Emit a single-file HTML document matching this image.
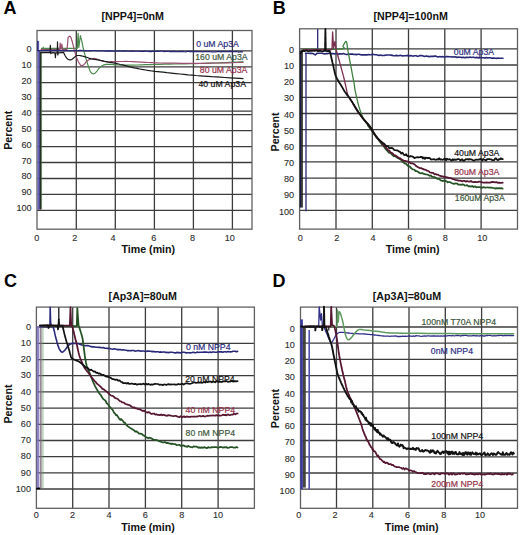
<!DOCTYPE html>
<html><head><meta charset="utf-8"><style>
html,body{margin:0;padding:0;background:#fff;overflow:hidden;width:520px;height:535px;}
svg{display:block;}
text{font-family:"Liberation Sans",sans-serif;}
.tk{font-size:9.6px;fill:#2e2e2e;stroke:#2e2e2e;stroke-width:0.12px;}
.bt{font-size:11px;font-weight:bold;fill:#111;}
.lt{font-size:18px;font-weight:bold;fill:#000;}
.cl{font-size:9.4px;}
</style></head><body>
<svg width="520" height="535" viewBox="0 0 520 535">
<rect width="520" height="535" fill="#fff"/>
<line x1="76.3" y1="30.5" x2="76.3" y2="229.2" stroke="#3c3c3c" stroke-width="1.3"/>
<line x1="115.3" y1="30.5" x2="115.3" y2="229.2" stroke="#3c3c3c" stroke-width="1.3"/>
<line x1="154.4" y1="30.5" x2="154.4" y2="229.2" stroke="#3c3c3c" stroke-width="1.3"/>
<line x1="193.4" y1="30.5" x2="193.4" y2="229.2" stroke="#3c3c3c" stroke-width="1.3"/>
<line x1="232.4" y1="30.5" x2="232.4" y2="229.2" stroke="#3c3c3c" stroke-width="1.3"/>
<line x1="37" y1="50.8" x2="252" y2="50.8" stroke="#3c3c3c" stroke-width="1.3"/>
<line x1="37" y1="66.8" x2="252" y2="66.8" stroke="#3c3c3c" stroke-width="1.3"/>
<line x1="37" y1="82.7" x2="252" y2="82.7" stroke="#3c3c3c" stroke-width="1.3"/>
<line x1="37" y1="98.7" x2="252" y2="98.7" stroke="#3c3c3c" stroke-width="1.3"/>
<line x1="37" y1="114.6" x2="252" y2="114.6" stroke="#3c3c3c" stroke-width="1.3"/>
<line x1="37" y1="130.6" x2="252" y2="130.6" stroke="#3c3c3c" stroke-width="1.3"/>
<line x1="37" y1="146.6" x2="252" y2="146.6" stroke="#3c3c3c" stroke-width="1.3"/>
<line x1="37" y1="162.5" x2="252" y2="162.5" stroke="#3c3c3c" stroke-width="1.3"/>
<line x1="37" y1="178.5" x2="252" y2="178.5" stroke="#3c3c3c" stroke-width="1.3"/>
<line x1="37" y1="194.4" x2="252" y2="194.4" stroke="#3c3c3c" stroke-width="1.3"/>
<line x1="37" y1="210.4" x2="252" y2="210.4" stroke="#3c3c3c" stroke-width="1.3"/>
<line x1="37" y1="111.1" x2="252" y2="111.1" stroke="#3c3c3c" stroke-width="1.3"/>
<rect x="37" y="30.5" width="215.0" height="198.7" fill="none" stroke="#606060" stroke-width="1.3"/>
<line x1="336.0" y1="28.8" x2="336.0" y2="229.1" stroke="#3c3c3c" stroke-width="1.3"/>
<line x1="372.3" y1="28.8" x2="372.3" y2="229.1" stroke="#3c3c3c" stroke-width="1.3"/>
<line x1="408.5" y1="28.8" x2="408.5" y2="229.1" stroke="#3c3c3c" stroke-width="1.3"/>
<line x1="444.8" y1="28.8" x2="444.8" y2="229.1" stroke="#3c3c3c" stroke-width="1.3"/>
<line x1="481.1" y1="28.8" x2="481.1" y2="229.1" stroke="#3c3c3c" stroke-width="1.3"/>
<line x1="299.6" y1="48.9" x2="517.5" y2="48.9" stroke="#3c3c3c" stroke-width="1.3"/>
<line x1="299.6" y1="65.0" x2="517.5" y2="65.0" stroke="#3c3c3c" stroke-width="1.3"/>
<line x1="299.6" y1="81.2" x2="517.5" y2="81.2" stroke="#3c3c3c" stroke-width="1.3"/>
<line x1="299.6" y1="97.3" x2="517.5" y2="97.3" stroke="#3c3c3c" stroke-width="1.3"/>
<line x1="299.6" y1="113.5" x2="517.5" y2="113.5" stroke="#3c3c3c" stroke-width="1.3"/>
<line x1="299.6" y1="129.7" x2="517.5" y2="129.7" stroke="#3c3c3c" stroke-width="1.3"/>
<line x1="299.6" y1="145.8" x2="517.5" y2="145.8" stroke="#3c3c3c" stroke-width="1.3"/>
<line x1="299.6" y1="161.9" x2="517.5" y2="161.9" stroke="#3c3c3c" stroke-width="1.3"/>
<line x1="299.6" y1="178.1" x2="517.5" y2="178.1" stroke="#3c3c3c" stroke-width="1.3"/>
<line x1="299.6" y1="194.2" x2="517.5" y2="194.2" stroke="#3c3c3c" stroke-width="1.3"/>
<line x1="299.6" y1="210.4" x2="517.5" y2="210.4" stroke="#3c3c3c" stroke-width="1.3"/>
<rect x="299.6" y="28.8" width="217.9" height="200.3" fill="none" stroke="#606060" stroke-width="1.3"/>
<line x1="72.7" y1="307.1" x2="72.7" y2="508.3" stroke="#3c3c3c" stroke-width="1.3"/>
<line x1="109.0" y1="307.1" x2="109.0" y2="508.3" stroke="#3c3c3c" stroke-width="1.3"/>
<line x1="145.4" y1="307.1" x2="145.4" y2="508.3" stroke="#3c3c3c" stroke-width="1.3"/>
<line x1="181.7" y1="307.1" x2="181.7" y2="508.3" stroke="#3c3c3c" stroke-width="1.3"/>
<line x1="218.1" y1="307.1" x2="218.1" y2="508.3" stroke="#3c3c3c" stroke-width="1.3"/>
<line x1="36.4" y1="327.2" x2="254.4" y2="327.2" stroke="#3c3c3c" stroke-width="1.3"/>
<line x1="36.4" y1="343.4" x2="254.4" y2="343.4" stroke="#3c3c3c" stroke-width="1.3"/>
<line x1="36.4" y1="359.6" x2="254.4" y2="359.6" stroke="#3c3c3c" stroke-width="1.3"/>
<line x1="36.4" y1="375.7" x2="254.4" y2="375.7" stroke="#3c3c3c" stroke-width="1.3"/>
<line x1="36.4" y1="391.9" x2="254.4" y2="391.9" stroke="#3c3c3c" stroke-width="1.3"/>
<line x1="36.4" y1="408.1" x2="254.4" y2="408.1" stroke="#3c3c3c" stroke-width="1.3"/>
<line x1="36.4" y1="424.3" x2="254.4" y2="424.3" stroke="#3c3c3c" stroke-width="1.3"/>
<line x1="36.4" y1="440.5" x2="254.4" y2="440.5" stroke="#3c3c3c" stroke-width="1.3"/>
<line x1="36.4" y1="456.6" x2="254.4" y2="456.6" stroke="#3c3c3c" stroke-width="1.3"/>
<line x1="36.4" y1="472.8" x2="254.4" y2="472.8" stroke="#3c3c3c" stroke-width="1.3"/>
<line x1="36.4" y1="489.0" x2="254.4" y2="489.0" stroke="#3c3c3c" stroke-width="1.3"/>
<rect x="36.4" y="307.1" width="218.0" height="201.2" fill="none" stroke="#606060" stroke-width="1.3"/>
<line x1="336.5" y1="307.1" x2="336.5" y2="508.3" stroke="#3c3c3c" stroke-width="1.3"/>
<line x1="372.8" y1="307.1" x2="372.8" y2="508.3" stroke="#3c3c3c" stroke-width="1.3"/>
<line x1="409.0" y1="307.1" x2="409.0" y2="508.3" stroke="#3c3c3c" stroke-width="1.3"/>
<line x1="445.3" y1="307.1" x2="445.3" y2="508.3" stroke="#3c3c3c" stroke-width="1.3"/>
<line x1="481.6" y1="307.1" x2="481.6" y2="508.3" stroke="#3c3c3c" stroke-width="1.3"/>
<line x1="300.5" y1="327.0" x2="517.5" y2="327.0" stroke="#3c3c3c" stroke-width="1.3"/>
<line x1="300.5" y1="343.2" x2="517.5" y2="343.2" stroke="#3c3c3c" stroke-width="1.3"/>
<line x1="300.5" y1="359.4" x2="517.5" y2="359.4" stroke="#3c3c3c" stroke-width="1.3"/>
<line x1="300.5" y1="375.7" x2="517.5" y2="375.7" stroke="#3c3c3c" stroke-width="1.3"/>
<line x1="300.5" y1="391.9" x2="517.5" y2="391.9" stroke="#3c3c3c" stroke-width="1.3"/>
<line x1="300.5" y1="408.1" x2="517.5" y2="408.1" stroke="#3c3c3c" stroke-width="1.3"/>
<line x1="300.5" y1="424.3" x2="517.5" y2="424.3" stroke="#3c3c3c" stroke-width="1.3"/>
<line x1="300.5" y1="440.5" x2="517.5" y2="440.5" stroke="#3c3c3c" stroke-width="1.3"/>
<line x1="300.5" y1="456.8" x2="517.5" y2="456.8" stroke="#3c3c3c" stroke-width="1.3"/>
<line x1="300.5" y1="473.0" x2="517.5" y2="473.0" stroke="#3c3c3c" stroke-width="1.3"/>
<line x1="300.5" y1="489.2" x2="517.5" y2="489.2" stroke="#3c3c3c" stroke-width="1.3"/>
<rect x="300.5" y="307.1" width="217.0" height="201.2" fill="none" stroke="#606060" stroke-width="1.3"/>
<line x1="38.3" y1="41" x2="38.3" y2="210" stroke="#6a64b8" stroke-width="1.7"/>
<line x1="39.6" y1="50" x2="39.6" y2="209.5" stroke="#3a3a80" stroke-width="1.0"/>
<line x1="40.8" y1="52" x2="40.8" y2="209.5" stroke="#22261a" stroke-width="1.5"/>
<line x1="41.6" y1="48" x2="41.6" y2="209" stroke="#4a8a4a" stroke-width="0.7" stroke-opacity="0.8"/>
<polyline points="41.5,48.4 43.6,48.4 46.7,48.3 50.0,48.3 53.2,48.3 56.6,48.4 60.0,48.4 63.4,48.4 66.9,48.3 70.0,48.3 72.9,48.3 75.5,48.4 77.3,48.4 78.1,33.4 78.8,47.5 80.4,35.7 80.6,36.5 80.9,37.7 81.3,39.1 81.7,40.6 82.0,42.0 82.3,43.4 82.6,44.9 82.8,46.4 83.2,47.9 83.5,49.5 83.9,51.2 84.4,52.9 84.9,54.7 85.4,56.4 85.8,58.0 86.2,59.4 86.5,60.6 86.9,61.7 87.3,62.9 87.7,64.2 88.2,65.7 88.8,67.5 89.4,69.2 90.0,70.7 90.6,71.9 91.2,72.7 91.8,73.3 92.3,73.6 92.9,73.8 93.5,73.8 94.0,73.7 94.6,73.5 95.1,73.1 95.7,72.5 96.3,71.9 97.0,71.1 97.7,70.1 98.5,69.0 99.3,68.0 100.2,67.1 101.1,66.4 102.0,65.8 103.0,65.3 104.0,64.9 105.0,64.6 106.1,64.4 107.2,64.3 108.3,64.3 109.5,64.4 110.8,64.4 112.2,64.5 113.6,64.6 115.1,64.8 116.7,64.9 118.5,65.0 120.4,65.1 122.4,65.1 124.6,65.2 127.1,65.2 130.0,65.2 133.4,65.1 137.1,65.0 141.2,64.9 145.5,64.7 150.0,64.6 154.7,64.5 159.6,64.4 164.8,64.2 169.9,64.1 175.0,64.0 180.0,63.9 185.0,63.8 190.0,63.7 195.0,63.6 200.0,63.5 205.1,63.3 210.3,63.2 215.5,63.0 220.4,62.8 225.0,62.6 229.3,62.4 233.6,62.2 237.4,62.1 240.7,61.9 243.0,61.8" fill="none" stroke="#4a8a4a" stroke-width="1.2" stroke-linejoin="round" stroke-linecap="round"/>
<polyline points="43.0,48.4 43.3,46.8 43.6,48.4" fill="none" stroke="#4a8a4a" stroke-width="0.8" stroke-linejoin="round" stroke-linecap="round"/>
<polyline points="41.0,49.6 55.0,49.6 59.6,49.6 60.2,43.0 61.0,49.0 61.9,44.0 62.6,49.6 66.5,49.6 67.3,47.2 68.1,37.2 68.1,37.2 68.4,37.0 68.9,36.6 69.4,36.3 69.9,36.2 70.4,36.5 70.9,37.4 71.4,38.8 71.8,40.3 72.3,41.9 72.7,43.4 73.0,44.7 73.3,45.9 73.6,47.0 73.9,48.2 74.2,49.5 74.6,50.9 75.0,52.4 75.4,53.8 75.8,55.2 76.2,56.5 76.6,57.6 76.9,58.6 77.3,59.4 77.7,60.3 78.1,61.1 78.5,62.0 79.0,62.8 79.5,63.6 80.0,64.3 80.4,64.9 80.7,65.3 81.0,65.5 81.3,65.7 81.6,65.7 81.9,65.7 82.3,65.6 82.8,65.4 83.2,65.1 83.7,64.8 84.2,64.4 84.6,63.9 85.1,63.3 85.5,62.7 86.0,62.0 86.5,61.5 87.1,61.0 87.7,60.6 88.3,60.2 89.0,59.8 89.6,59.5 90.2,59.2 90.8,59.0 91.4,58.8 91.9,58.7 92.5,58.6 93.0,58.5 93.5,58.5 94.0,58.4 94.5,58.4 95.0,58.5 95.6,58.6 96.2,58.8 96.8,59.0 97.4,59.2 98.0,59.4 98.6,59.7 99.2,59.9 99.8,60.2 100.4,60.5 101.2,60.8 102.1,61.0 103.0,61.3 104.0,61.5 105.2,61.7 106.5,61.8 107.9,61.8 109.4,61.8 111.0,61.7 112.9,61.7 115.0,61.6 117.4,61.6 120.0,61.5 122.9,61.5 125.9,61.4 129.2,61.5 132.9,61.6 136.9,61.8 141.1,62.1 145.1,62.3 148.5,62.5 150.8,62.6 152.3,62.7 153.7,62.8 156.0,62.9 160.0,63.0 166.1,63.1 173.8,63.2 182.4,63.3 191.4,63.3 200.0,63.3 209.1,63.2 219.0,63.0 228.8,62.8 237.1,62.5 243.0,62.4" fill="none" stroke="#9a5070" stroke-width="1.2" stroke-linejoin="round" stroke-linecap="round"/>
<polyline points="40.7,52.6 48.0,52.6 50.0,52.6 50.3,45.3 50.8,53.6 52.0,52.6 55.0,52.8 55.4,57.6 55.8,52.8 57.3,52.6 57.5,41.8 57.8,55.0 58.3,52.8 63.5,52.3 63.5,52.3 63.8,52.9 64.3,53.9 64.8,54.9 65.3,56.0 65.8,56.8 66.2,57.5 66.7,58.0 67.1,58.5 67.6,59.0 68.1,59.3 68.7,59.6 69.3,59.8 69.9,59.9 70.6,59.9 71.2,59.8 71.8,59.5 72.4,59.1 73.0,58.5 73.6,58.0 74.2,57.5 74.8,57.1 75.3,56.6 75.8,56.2 76.4,55.8 77.0,55.6 77.7,55.5 78.5,55.5 79.4,55.5 80.3,55.6 81.2,55.8 82.2,56.0 83.3,56.3 84.4,56.6 85.5,56.9 86.5,57.2 87.4,57.5 88.1,57.8 88.9,58.1 89.6,58.4 90.4,58.6 91.2,58.8 92.1,59.0 93.0,59.1 93.9,59.3 95.0,59.5 96.3,59.7 97.7,59.9 99.1,60.1 100.6,60.4 101.9,60.6 103.0,60.8 104.1,61.1 105.0,61.3 106.1,61.5 107.3,61.8 108.7,62.1 110.1,62.3 111.7,62.6 113.3,62.9 115.0,63.2 116.8,63.6 118.6,64.0 120.5,64.5 122.5,64.9 124.4,65.4 126.3,65.9 128.2,66.4 130.1,66.9 132.1,67.3 134.0,67.8 135.9,68.2 137.9,68.6 139.8,69.0 141.8,69.4 143.7,69.7 145.7,70.0 147.7,70.4 149.7,70.7 151.6,71.0 153.3,71.2 154.6,71.4 155.6,71.5 156.5,71.6 157.9,71.7 160.0,71.9 163.1,72.2 167.0,72.7 171.4,73.1 175.8,73.6 180.0,74.0 184.0,74.4 188.0,74.8 192.0,75.1 196.0,75.5 200.0,75.8 204.0,76.1 207.9,76.4 211.8,76.7 215.8,76.9 220.0,77.2 224.8,77.5 230.1,77.8 235.3,78.1 239.8,78.4 243.0,78.6" fill="none" stroke="#1a1a1a" stroke-width="1.2" stroke-linejoin="round" stroke-linecap="round"/>
<polyline points="37.6,50.6 39.0,50.6 40.4,50.6 41.8,50.6 43.3,50.6 44.7,50.6 46.1,50.5 47.5,50.5 48.9,50.7 50.3,50.4 51.7,50.7 53.1,50.6 54.6,50.4 56.0,50.6 57.4,50.4 58.8,50.6 60.2,50.4 61.6,50.5 63.0,50.6 64.5,50.8 65.9,50.5 67.3,50.5 68.7,50.7 70.1,50.9 71.5,50.7 72.9,50.6 74.3,50.9 75.8,50.5 77.2,50.9 78.6,50.6 80.0,50.5 81.4,50.5 82.9,50.6 84.3,50.9 85.7,50.6 87.1,50.8 88.6,50.8 90.0,50.7 91.4,50.8 92.9,50.6 94.3,50.6 95.7,50.7 97.1,50.9 98.6,50.8 100.0,50.8 101.4,50.9 102.9,50.8 104.3,50.8 105.7,51.0 107.1,51.0 108.6,50.8 110.0,51.0 111.4,50.9 112.9,51.1 114.3,51.1 115.7,50.9 117.1,51.2 118.6,50.8 120.0,51.0 121.4,51.1 122.9,50.9 124.3,51.0 125.7,50.8 127.1,51.2 128.6,51.2 130.0,51.1 131.4,51.3 132.9,51.0 134.3,51.2 135.7,51.2 137.1,51.2 138.6,51.2 140.0,51.4 141.4,51.4 142.9,51.2 144.3,51.3 145.7,51.0 147.1,51.4 148.6,51.4 150.0,51.5 151.4,51.5 152.9,51.2 154.3,51.3 155.7,51.4 157.1,51.1 158.6,51.4 160.0,51.2 161.4,51.2 162.9,51.2 164.3,51.6 165.7,51.3 167.1,51.4 168.6,51.4 170.0,51.7 171.4,51.3 172.8,51.5 174.3,51.5 175.7,51.7 177.1,51.7 178.5,51.7 180.0,51.4 181.4,51.5 182.8,51.5 184.2,51.7 185.6,51.8 187.1,51.4 188.5,51.4 189.9,51.5 191.3,51.5 192.7,51.6 194.2,51.6 195.6,51.5 197.0,51.4 198.4,51.6 199.9,51.6 201.3,51.7 202.7,51.9 204.1,51.7 205.5,51.7 207.0,51.7 208.4,51.7 209.8,51.5 211.2,51.9 212.6,51.8 214.1,51.9 215.5,51.8 216.9,51.6 218.3,51.7 219.8,51.5 221.2,51.8 222.6,51.5 224.0,51.5 225.4,51.6 226.9,51.6 228.3,51.7 229.7,51.5 231.1,51.5 232.5,51.6 234.0,51.6 235.4,51.7 236.8,51.5 238.2,52.0 239.7,51.8 241.1,51.6 242.5,51.8" fill="none" stroke="#282878" stroke-width="1.3" stroke-linejoin="round" stroke-linecap="round"/>
<line x1="37.7" y1="40.7" x2="37.7" y2="51" stroke="#282878" stroke-width="1.2"/>
<line x1="300.6" y1="50.5" x2="300.6" y2="207.6" stroke="#1a1a40" stroke-width="1.6"/>
<line x1="302.0" y1="50.5" x2="302.0" y2="207.6" stroke="#202020" stroke-width="1.6"/>
<line x1="306.0" y1="53" x2="306.0" y2="211.3" stroke="#282878" stroke-width="1.3"/>
<polyline points="300.6,53.5 301.5,51.4 303.5,50.8" fill="none" stroke="#111" stroke-width="1.6" stroke-linejoin="round" stroke-linecap="round"/>
<polyline points="305.5,53.2 307.0,53.3 308.5,53.3 310.0,53.4 311.5,53.4 313.0,53.5 314.1,54.2 315.3,54.9 317.0,53.4 318.3,53.2 319.7,53.3 321.0,53.3 322.3,53.2 323.7,53.8 325.0,53.9 326.3,53.5 327.6,53.6 328.9,53.3 330.3,53.3 331.6,53.6 332.9,53.5 334.2,54.0 335.5,53.5 336.8,53.5 338.2,54.2 339.5,53.9 340.8,53.7 342.1,54.0 343.4,53.6 344.7,54.1 346.1,54.5 347.4,54.4 348.7,54.3 350.0,54.0 351.3,54.1 352.6,54.0 353.9,54.5 355.3,54.4 356.6,54.6 357.9,54.3 359.2,54.2 360.5,54.7 361.8,54.9 363.2,54.9 364.5,54.9 365.8,54.9 367.1,54.9 368.4,54.5 369.7,54.8 371.1,54.7 372.4,54.4 373.7,54.5 375.0,54.7 376.3,54.7 377.7,55.1 379.0,55.4 380.3,55.0 381.7,55.4 383.0,55.5 384.3,55.5 385.7,55.1 387.0,55.0 388.3,55.0 389.7,55.0 391.0,55.1 392.3,55.4 393.7,55.7 395.0,55.7 396.3,55.4 397.6,55.6 398.9,55.7 400.3,55.2 401.6,55.7 402.9,55.9 404.2,55.8 405.5,55.8 406.8,55.6 408.2,55.4 409.5,55.9 410.8,55.6 412.1,56.0 413.4,56.1 414.7,55.7 416.1,55.7 417.4,56.2 418.7,56.1 420.0,55.6 421.3,55.6 422.7,55.7 424.0,56.4 425.3,56.3 426.7,55.9 428.0,56.4 429.3,56.6 430.7,56.4 432.0,56.2 433.3,56.4 434.7,56.1 436.0,56.1 437.3,56.9 438.7,56.7 440.0,56.6 441.3,57.0 442.6,56.6 443.9,57.0 445.2,57.0 446.5,56.6 447.8,56.6 449.1,56.7 450.4,56.7 451.7,57.0 453.0,56.8 454.3,57.0 455.7,56.8 457.0,57.4 458.3,57.0 459.6,57.2 460.9,57.3 462.2,57.6 463.5,57.2 464.8,57.7 466.1,57.4 467.4,57.4 468.7,57.5 470.0,57.1 471.3,57.5 472.5,57.3 473.8,57.2 475.1,57.8 476.3,57.4 477.6,57.6 478.9,57.9 480.2,57.8 481.4,57.6 482.7,57.8 484.0,57.8 485.2,58.1 486.5,57.5 487.8,57.9 489.0,57.7 490.3,57.8 491.6,58.2 492.8,58.0 494.1,58.1 495.4,58.2 496.7,58.4 497.9,58.0 499.2,58.2 500.5,58.2 501.7,58.2 503.0,58.2" fill="none" stroke="#282878" stroke-width="1.6" stroke-linejoin="round" stroke-linecap="round"/>
<line x1="317.7" y1="28.9" x2="317.7" y2="52" stroke="#282878" stroke-width="1.3"/>
<polyline points="302.0,49.1 309.9,49.2 321.4,49.3 332.9,49.3 341.0,49.1 344.1,48.6 344.2,47.8 343.3,47.0 343.0,46.0 343.8,44.7 344.6,43.0 345.5,41.7 346.2,41.4 346.7,42.5 347.1,44.6 347.4,47.2 347.8,49.6 348.2,51.9 348.7,54.4 349.1,56.9 349.5,59.2 349.9,61.2 350.3,63.1 350.6,64.9 351.0,66.9 351.4,69.0 351.8,71.2 352.2,73.5 352.6,75.6 353.0,77.6 353.4,79.6 353.8,81.5 354.1,83.3 354.4,85.1 354.6,87.0 354.8,88.6 355.0,90.0 355.1,90.8 355.2,91.2 355.3,91.6 355.6,92.7 356.0,94.7 356.6,97.2 357.2,99.9 357.8,102.3 358.3,104.3 358.8,106.2 359.4,108.0 360.0,110.0 360.8,112.2 361.6,114.4 362.5,116.6 363.5,118.7 364.6,120.7 365.9,122.6 367.1,124.2 367.9,125.4" fill="none" stroke="#3f7f3f" stroke-width="1.3" stroke-linejoin="round" stroke-linecap="round"/>
<polyline points="367.9,125.4 368.2,125.8 368.6,126.4 369.2,127.2 370.0,128.2 371.0,129.6 372.2,131.4 372.9,132.3 373.5,133.2 374.8,135.0 376.0,136.6 377.2,138.2 378.4,139.8 379.6,141.3 380.8,143.0 382.0,144.3 383.2,145.8 384.4,147.2 385.6,149.1 386.8,150.1 388.0,151.6 389.2,152.8 390.4,153.0 391.6,154.2 392.8,155.5 394.0,156.2 395.2,156.2 396.4,156.9 397.6,158.0 398.8,158.3 400.0,159.3 401.3,160.0 402.5,161.6 403.7,162.6 404.9,163.7 406.1,163.7 407.2,165.3 408.5,166.2 409.9,166.6 411.3,168.4 412.7,169.4 414.2,169.5 415.6,171.1 416.9,171.2 418.3,172.0 420.0,173.2 421.1,173.4 422.1,173.0 423.3,173.7 424.6,174.1 425.8,174.3 427.1,174.5 428.4,175.0 429.6,175.8 430.8,175.5 432.0,176.6 433.2,176.9 434.4,177.0 435.6,177.8 436.8,178.6 438.0,179.0 439.2,178.9 440.4,180.3 441.6,180.5 442.8,181.1 444.0,180.5 445.2,181.1 446.4,181.2 447.6,182.3 448.8,182.0 449.9,182.1 451.0,182.7 453.1,183.7 454.2,183.8 455.4,183.4 457.0,183.5 458.5,184.7 459.8,184.5 461.2,184.9 462.5,184.4 463.7,184.6 464.8,185.5 466.0,185.4 467.1,185.2 468.4,186.4 469.7,186.2 471.0,186.6 472.3,186.0 473.6,187.0 475.0,186.3 476.3,187.3 477.7,187.0 479.0,187.0 480.3,187.4 481.6,187.9 482.8,187.3 484.1,187.2 485.3,187.7 486.6,187.5 487.8,187.4 489.0,187.6 490.2,187.5 491.4,187.7 492.7,187.9 494.1,188.0 495.4,188.6 496.7,188.1 498.1,188.4 499.2,188.1 500.4,188.4 501.5,188.1 502.7,188.7" fill="none" stroke="#245224" stroke-width="1.75" stroke-linejoin="round" stroke-linecap="round"/>
<polyline points="303.0,49.6 332.0,49.6 332.6,31.8 333.6,48.0 335.0,41.4 336.1,49.6 336.1,49.6 336.4,50.8 336.9,52.4 337.4,54.3 338.0,56.3 338.6,58.3 339.2,60.5 339.8,62.8 340.4,65.0 341.0,67.2 341.6,69.4 342.2,71.6 342.8,73.7 343.3,75.7 343.8,77.5 344.2,79.3 344.7,81.3 345.2,83.5 345.7,85.8 346.2,88.1 346.6,90.0 346.9,91.5 347.2,92.6 347.4,93.6 347.7,94.6 348.1,95.4 348.5,96.1 349.0,96.8 349.6,97.8 350.5,99.4 351.7,101.4 352.8,103.2 353.5,104.5" fill="none" stroke="#7a3050" stroke-width="1.3" stroke-linejoin="round" stroke-linecap="round"/>
<polyline points="353.5,104.5 354.3,105.9 354.9,106.9 355.5,107.9 356.2,109.0 356.9,110.1 357.6,111.2 358.3,112.2 359.0,113.2 359.7,114.1 360.4,115.1 361.1,116.1 361.8,117.0 362.5,118.0 363.3,118.9 364.0,119.8 364.7,120.7 365.5,121.5 366.9,123.1 368.4,124.8 369.8,126.5 370.5,127.5 371.1,128.5 371.7,129.5 372.4,130.5 373.0,131.6 373.6,132.6 374.2,133.6 374.8,134.5 376.0,136.2 377.2,137.7 378.4,139.2 379.6,140.6 380.8,141.7 382.0,142.8 383.2,145.0 384.4,146.1 385.6,146.9 386.8,148.5 388.0,150.2 389.2,150.4 390.4,152.2 391.6,152.7 392.8,153.7 394.0,155.0 395.2,155.3 396.4,156.1 397.6,157.0 398.8,158.0 400.0,158.1 401.3,159.4 402.5,160.0 403.7,160.6 404.9,160.8 406.1,161.2 407.3,161.3 408.5,161.9 409.7,162.3 410.8,163.4 412.0,163.3 413.3,163.8 414.8,164.5 416.4,166.3 418.1,167.3 420.0,168.1 421.1,168.1 422.2,168.6 423.4,169.1 424.6,169.7 425.9,169.9 427.1,170.7 428.4,171.0 429.6,172.2 430.8,172.7 432.0,172.8 433.2,172.9 434.4,174.3 435.6,174.0 436.8,174.6 438.0,174.6 439.2,175.5 440.4,175.9 441.6,176.3 442.8,176.3 444.0,177.0 445.2,176.7 446.4,177.3 447.6,177.4 448.8,178.0 449.9,177.9 451.0,178.2 453.1,179.1 454.2,179.3 455.4,180.0 457.0,180.2 458.5,180.7 459.8,180.7 461.2,180.9 462.5,181.3 463.7,180.8 464.8,180.9 466.0,181.7 467.1,180.9 468.4,181.6 469.7,181.6 471.0,181.0 472.3,182.0 473.6,182.1 475.0,181.9 476.3,182.1 477.7,182.2 479.0,181.5 480.3,182.0 481.6,182.1 482.8,182.5 484.1,182.5 485.3,182.6 486.6,182.3 487.8,182.7 489.0,182.5 490.2,182.6 491.4,182.1 492.7,181.9 494.1,182.1 495.4,182.3 496.7,182.1 498.1,182.9 499.2,182.7 500.4,182.8 501.5,182.8 502.7,182.7" fill="none" stroke="#561630" stroke-width="1.75" stroke-linejoin="round" stroke-linecap="round"/>
<polyline points="302.0,50.9 303.1,50.9 304.3,51.0 305.4,50.8 306.6,50.4 307.7,51.1 308.9,51.0 310.0,50.8 311.1,50.8 312.2,50.9 313.3,50.5 314.4,51.0 315.6,50.7 316.7,50.5 317.8,50.7 318.9,51.1 320.0,50.7 321.2,51.1 322.5,51.3 323.8,50.9 325.0,50.8 325.0,49.8 325.0,48.8 325.1,47.8 325.1,46.6 325.1,45.5 325.1,44.0 325.1,42.9 325.2,41.9 325.2,41.2 325.2,39.7 325.2,38.9 325.2,37.3 325.3,36.2 325.3,35.3 325.3,34.5 325.3,33.5 325.3,32.3 325.4,30.9 325.4,30.0 325.4,28.9 325.4,30.0 325.4,30.8 325.5,32.5 325.5,33.1 325.5,34.8 325.5,35.8 325.5,36.2 325.6,37.7 325.6,39.1 325.6,40.3 325.6,41.0 325.6,41.9 325.7,43.0 325.7,44.7 325.7,45.2 325.7,46.6 325.7,47.3 325.8,48.7 325.8,50.2 325.8,50.6 327.1,51.2 328.5,51.0 329.8,51.0 329.8,51.0 330.1,52.5 330.4,53.5 330.6,54.6 330.9,55.7 331.2,56.9 331.4,58.1 331.7,59.2 331.9,60.3 332.2,61.4 332.4,62.5 332.7,63.6 333.0,64.7 333.2,65.8 333.5,66.8 333.7,67.9 333.9,68.9 334.2,69.9 334.4,70.9 334.6,71.9 334.8,72.9 335.1,73.8 335.3,74.7 335.6,75.6 336.3,77.2 337.0,78.7 337.8,80.0 338.5,81.3 339.2,82.5 339.9,83.5 340.6,84.5 341.3,85.7 342.1,87.1 343.0,88.6 343.9,90.2 344.8,91.7 345.8,93.1 346.9,94.6 348.0,96.0 348.5,96.7 349.1,97.5 349.6,98.3 350.2,99.1 350.7,99.9 351.3,100.7 351.8,101.6 352.4,102.4 352.9,103.3 353.5,104.2 354.1,105.1 354.7,106.1 355.2,107.0 355.8,108.0 356.4,109.0 357.0,110.0 357.7,110.9 358.3,111.9 359.0,112.9 359.7,113.8 360.4,114.8 361.1,115.8 361.8,116.8 362.5,117.7 363.3,118.7 364.0,119.6 364.7,120.5 365.5,121.3 366.2,122.1 366.9,122.9 367.7,123.7 368.4,124.5 369.1,125.4 369.8,126.3 370.5,127.3 371.1,128.3 371.7,129.3 372.4,130.4 373.0,131.5 373.6,132.5 374.2,133.5 374.8,134.4 375.4,135.2 376.0,136.1 376.6,136.8 377.2,137.6 377.8,138.3 378.4,138.9 379.6,140.2 380.8,141.3 382.0,142.2 383.2,143.1 384.4,144.0 385.6,145.6 386.8,146.2 388.0,146.1 389.2,148.2 390.4,148.1 391.6,147.8 392.8,148.3 394.0,149.8 395.2,150.2 396.4,150.4 397.6,150.5 398.8,151.4 400.0,151.9 401.3,153.6 402.5,152.6 403.7,154.6 404.9,155.2 406.1,154.2 407.3,156.1 408.5,156.0 409.7,156.7 410.8,156.0 412.0,156.5 413.3,156.8 414.5,158.1 415.8,157.5 417.4,157.1 418.7,157.4 420.0,157.2 421.0,156.8 422.0,157.0 422.9,158.5 423.9,157.5 424.9,158.9 425.9,157.7 426.9,157.8 427.8,158.3 428.8,157.8 429.9,158.2 430.9,159.5 432.0,159.4 433.0,159.4 434.1,159.1 435.1,159.7 436.1,159.8 437.2,159.2 438.2,159.6 439.2,158.3 440.2,159.7 441.1,159.2 442.1,159.8 443.1,159.7 444.0,159.0 445.0,158.6 446.0,160.3 446.9,158.8 447.9,159.5 448.9,159.3 449.8,159.2 450.8,160.1 451.7,160.6 452.7,159.2 453.7,160.0 454.6,159.4 455.6,159.9 456.6,159.6 457.5,159.1 458.5,159.2 459.4,159.3 460.4,160.6 461.3,159.8 462.2,159.3 463.2,160.6 464.1,160.8 465.0,159.8 465.9,159.2 466.8,159.3 467.7,159.1 468.7,159.6 469.6,159.1 470.6,159.4 471.5,159.4 472.5,160.0 473.5,160.6 474.6,160.3 475.6,159.7 476.7,159.6 477.7,159.8 478.6,159.5 479.5,159.5 480.5,158.9 481.4,159.3 482.3,160.6 483.2,159.0 484.1,159.7 485.2,159.9 486.2,160.3 487.2,159.1 488.3,159.1 489.3,159.1 490.4,159.3 491.4,159.4 492.4,160.3 493.3,160.1 494.3,160.1 495.2,158.5 496.2,158.5 497.1,159.7 498.1,160.1 499.0,159.2 499.9,159.4 500.8,158.3 501.8,159.0 502.7,159.2" fill="none" stroke="#121212" stroke-width="1.8" stroke-linejoin="round" stroke-linecap="round"/>
<line x1="38.0" y1="326" x2="38.0" y2="488.5" stroke="#7a70c0" stroke-width="2.6" stroke-opacity="0.85"/>
<line x1="40.8" y1="326" x2="40.8" y2="488.5" stroke="#7a6a78" stroke-width="1.8" stroke-opacity="0.8"/>
<line x1="42.9" y1="326" x2="42.9" y2="488.5" stroke="#6a9a6a" stroke-width="0.9" stroke-opacity="0.8"/>
<polyline points="36.8,488.6 39.5,488.4" fill="none" stroke="#000" stroke-width="1.6" stroke-linejoin="round" stroke-linecap="round"/>
<polyline points="40.0,326.8 50.0,326.8 50.2,307.4 50.6,322.3 51.5,326.8 51.5,326.8 51.8,326.6 52.2,326.2 52.7,326.2 53.2,327.1 53.5,328.2 53.8,329.3 54.2,330.8 54.6,332.3 54.8,333.4 55.1,334.6 55.3,335.7 55.7,337.2 56.1,338.7 56.5,340.0 56.8,341.4 57.2,342.7 57.5,344.0 57.9,345.2 58.3,346.4 59.0,348.3 59.7,349.8 60.5,350.9 61.2,351.7 61.9,352.1 62.6,352.1 63.3,351.6 64.1,350.9 64.8,350.2 65.5,349.3 66.3,348.3 67.0,347.2 67.7,346.3 68.3,345.6 68.9,345.1 69.4,344.7 70.0,344.3 70.6,344.0 71.1,343.8 71.7,343.6 72.5,343.5 73.5,343.4 74.6,343.3 75.9,343.4 77.3,343.5 78.8,343.8 80.3,344.5 82.1,345.0 84.0,345.4 85.1,345.7 86.2,345.5 87.4,345.6 88.7,345.8 89.9,346.3 91.2,346.6 92.5,346.9 93.7,346.9 94.9,347.0 96.2,347.3 97.4,347.2 98.7,347.4 99.9,347.2 101.1,347.7 103.3,347.6 104.9,348.3 106.0,348.3 107.5,348.4 108.7,348.4 110.0,348.6 111.4,349.0 112.7,349.2 114.1,348.9 115.3,349.0 116.6,349.4 117.9,349.6 119.2,349.6 120.5,349.6 121.9,350.0 123.3,349.7 124.7,350.0 126.0,350.2 127.3,350.6 128.7,350.5 130.0,350.7 131.2,350.6 132.4,350.5 133.7,350.5 134.9,351.1 136.1,351.0 137.3,350.8 138.5,350.6 139.7,351.0 141.0,351.1 142.2,351.0 143.5,351.0 144.7,351.3 146.0,351.5 147.3,351.1 148.7,351.0 150.0,351.3 151.2,351.4 152.3,351.6 153.5,351.4 154.6,351.8 155.8,351.9 157.0,351.8 158.2,351.7 159.4,352.2 160.7,351.9 161.9,352.3 163.1,352.0 164.4,352.0 165.6,352.4 166.9,352.2 168.1,352.7 169.4,352.4 170.6,352.3 171.8,352.3 173.1,352.5 174.3,352.7 175.5,352.9 176.7,352.4 177.9,352.6 179.2,352.5 180.4,353.0 181.6,352.4 182.8,352.3 184.0,352.3 185.2,352.5 186.4,352.9 187.7,352.8 188.9,352.7 190.1,352.9 191.3,352.8 192.5,352.4 193.7,352.3 195.0,352.7 196.2,352.6 197.4,352.1 198.6,352.5 199.9,352.3 201.1,352.3 202.4,352.2 203.7,352.1 204.9,352.0 206.2,352.1 207.5,352.2 208.8,352.5 210.1,352.0 211.4,352.5 212.6,352.0 213.9,352.0 215.1,352.3 216.4,352.3 217.6,352.0 218.9,351.7 220.3,351.9 221.6,351.9 223.0,352.2 224.2,351.7 225.3,351.7 226.5,352.1 227.7,351.5 229.1,351.7 230.4,351.9 231.8,351.8 233.0,351.3 234.1,351.2 235.2,351.2 236.4,351.7 237.6,351.4" fill="none" stroke="#282878" stroke-width="1.6" stroke-linejoin="round" stroke-linecap="round"/>
<polyline points="43.0,326.0 76.8,326.0 77.3,308.0 78.6,326.0 78.6,326.0 78.7,326.0 78.7,325.9 78.9,326.2 79.2,327.1 79.8,329.0 80.2,330.3 80.6,331.6 81.0,333.0 81.5,334.4 81.8,335.5 82.1,336.7 82.5,338.2 82.7,339.3 82.8,340.5 83.1,342.5 83.3,344.1 83.5,345.6 83.7,346.9 83.8,348.2 84.0,349.5 84.2,350.8 84.3,352.1 84.5,353.4 84.7,354.6 84.8,355.7 85.0,356.9 85.2,358.3 85.5,359.7 85.7,360.9 85.9,362.2 86.1,363.3 86.4,364.4 86.6,365.5 86.9,366.5 87.5,368.4 88.3,370.0 89.0,371.5 89.8,373.3 90.2,374.3 90.6,375.4 91.0,376.5 91.4,377.6 91.8,378.7 92.3,379.8 92.7,380.9 93.1,381.9 93.9,383.7 94.7,385.4 95.6,387.1 96.5,388.8 97.6,390.6 98.1,391.5 98.7,392.4 99.3,393.3 99.9,394.1 101.1,395.5 102.3,397.7 103.5,399.3 104.7,400.0 105.8,401.2 106.7,403.3 107.5,403.9 108.3,404.6 109.2,406.4 110.2,407.2 111.4,408.6 112.5,409.7 113.8,412.2 114.5,413.3 115.3,413.9 116.1,415.2 116.9,415.0 117.6,416.2 118.4,417.4 119.6,419.4 120.3,419.9 120.6,419.2 120.9,419.0 121.7,419.7 123.1,421.1 123.9,422.6 124.8,422.5 125.8,424.3 126.7,425.1 127.6,426.1 128.5,426.8 130.1,427.9 131.6,428.7 133.2,429.8 134.2,430.4 135.2,431.6 136.4,431.3 137.6,432.2 139.0,433.6 140.4,433.7 141.4,433.9 142.3,434.3 143.3,435.4 144.7,435.8 146.0,437.2 147.1,437.6 148.2,438.2 149.2,437.7 150.2,437.8 151.3,438.2 152.4,439.1 153.9,439.8 155.4,439.9 156.7,440.0 158.0,440.6 159.3,441.2 160.5,441.6 161.6,442.0 162.8,442.4 163.9,442.4 165.2,442.0 166.4,443.2 167.7,442.8 169.0,443.5 170.0,443.4 171.1,444.1 172.2,443.6 173.2,443.9 174.3,444.1 175.4,444.1 176.6,445.2 177.7,445.0 178.9,444.9 180.0,445.2 181.2,446.1 182.4,445.6 183.7,445.4 184.9,446.3 186.1,446.3 187.2,446.9 188.2,445.8 189.2,446.4 190.3,447.0 191.3,447.1 192.4,447.3 193.6,446.3 194.9,446.7 196.1,446.6 197.4,446.8 198.6,447.9 199.7,447.4 200.7,447.9 201.8,447.3 202.8,447.9 203.9,447.4 204.9,447.2 206.0,447.9 207.1,448.1 208.2,447.1 209.2,447.7 210.3,447.7 211.4,447.2 212.6,447.4 213.9,447.1 215.1,447.2 216.4,447.2 217.6,447.7 218.7,447.7 219.8,447.1 220.8,446.9 221.9,447.3 223.0,447.7 224.2,447.1 225.3,447.3 226.5,447.1 227.7,447.9 229.1,447.6 230.4,447.0 231.8,447.0 233.0,447.4 234.1,447.6 235.2,447.7 236.4,447.0 237.6,447.5" fill="none" stroke="#245224" stroke-width="1.75" stroke-linejoin="round" stroke-linecap="round"/>
<polyline points="43.0,325.6 69.8,325.6 70.5,307.4 71.2,325.0 71.2,325.0 71.4,325.2 71.7,325.3 72.0,325.9 72.5,327.1 72.8,328.3 73.1,329.5 73.4,330.5 73.6,331.6 73.9,332.7 74.1,333.8 74.4,334.9 74.7,336.0 75.0,337.3 75.3,338.7 75.7,340.4 76.1,341.6 76.4,342.8 76.8,344.4 77.1,345.6 77.3,346.8 77.6,348.2 77.9,349.6 78.2,351.0 78.5,352.4 78.9,353.7 79.2,355.0 79.5,356.1 79.9,357.2 80.3,358.2 80.6,359.1 81.4,361.0 82.1,362.7 82.8,364.3 83.5,365.8 84.2,367.2 85.0,368.5 85.9,369.8 87.0,371.1 88.0,372.3 88.8,373.3 89.3,374.1 89.7,374.6 90.1,375.2 90.8,376.2 92.0,377.7 92.7,378.6 93.4,379.5 94.2,380.5 95.0,381.4 95.7,381.9 96.5,383.3 97.9,384.4 99.4,385.6 100.8,386.9 102.3,388.8 103.8,389.3 105.2,390.7 106.7,391.6 108.1,392.8 109.5,394.4 111.0,395.5 112.4,395.8 113.8,396.6 115.2,398.1 116.7,398.5 118.1,399.2 119.6,401.0 121.0,401.3 122.4,402.5 123.9,402.7 125.4,404.0 126.9,404.3 128.5,404.8 130.2,405.5 131.4,406.6 132.5,407.2 133.5,407.8 134.5,407.3 135.5,408.3 136.7,408.4 137.9,409.0 139.1,409.0 140.3,409.6 141.5,410.3 142.8,411.1 143.8,410.6 144.9,411.3 146.0,412.0 147.3,412.6 148.5,412.2 149.6,412.4 150.7,413.7 151.7,414.0 152.8,413.7 154.1,413.5 155.4,414.7 156.5,414.2 157.6,414.9 158.6,414.8 159.9,415.1 161.1,414.5 162.3,415.3 163.5,414.8 164.8,415.1 166.0,415.7 167.2,415.8 168.3,415.1 169.5,415.3 171.0,415.7 172.6,416.0 174.0,416.0 175.4,415.9 176.8,416.2 178.3,416.9 179.4,417.1 180.5,416.2 181.6,416.9 182.8,417.1 184.1,416.3 185.3,417.2 186.7,416.4 188.0,416.9 189.3,416.8 190.4,416.9 191.5,416.5 192.6,416.5 193.7,416.7 194.9,416.5 196.2,416.7 197.4,416.4 198.6,416.3 199.8,415.8 200.9,416.4 202.1,416.2 203.2,415.9 204.4,416.5 205.5,416.4 206.6,416.0 207.7,415.7 208.8,415.9 209.9,415.5 210.9,415.5 212.0,415.7 213.1,415.3 214.2,415.7 215.3,415.7 216.3,415.1 217.4,415.7 218.5,415.0 219.6,415.7 220.8,415.7 221.9,415.3 223.0,414.7 224.2,415.1 225.3,414.8 226.5,415.4 227.7,414.4 229.1,415.0 230.4,415.0 231.8,414.5 233.0,414.5 234.1,413.6 235.2,414.4 236.4,413.6 237.6,413.5" fill="none" stroke="#561630" stroke-width="1.75" stroke-linejoin="round" stroke-linecap="round"/>
<polyline points="39.8,325.4 46.0,325.3 48.0,325.2 48.5,328.0 49.0,325.3 55.0,325.5 57.5,325.5 58.0,329.5 58.5,325.5 58.8,319.4 59.2,325.4 62.8,325.6 62.8,325.6 62.7,325.6 62.6,325.6 62.6,326.0 62.8,327.1 63.1,328.2 63.3,329.3 63.7,330.9 64.1,332.4 64.3,333.5 64.6,334.6 64.9,335.7 65.3,337.2 65.7,338.7 66.1,340.0 66.4,341.3 66.8,342.6 67.2,343.8 67.6,345.0 67.9,346.2 68.3,347.2 68.6,348.3 69.2,350.3 69.7,352.1 70.1,353.7 70.5,355.0 70.8,356.0 70.9,356.7 71.1,357.3 71.5,357.9 72.0,358.4 72.7,358.9 73.5,359.3 74.4,359.8 75.5,360.2 76.7,360.6 78.0,361.1 79.2,361.7 80.4,362.5 81.6,363.6 82.8,364.6 84.0,365.6 85.2,367.0 86.4,367.8 87.6,367.8 88.8,369.2 90.0,370.1 91.2,369.7 92.5,370.6 93.7,371.6 94.9,371.4 96.1,372.8 97.3,372.6 98.5,373.7 99.7,373.4 100.9,374.2 102.1,375.2 103.3,374.9 104.5,375.5 105.6,376.3 106.8,376.6 108.1,376.8 109.5,377.4 110.9,377.8 112.3,379.1 113.8,379.2 115.3,379.9 116.8,379.5 118.3,380.7 119.6,380.4 120.5,381.3 121.2,381.9 122.0,382.0 123.1,383.0 124.8,383.0 125.9,383.1 127.0,383.6 128.1,382.8 129.1,384.0 131.1,383.7 132.6,383.7 133.9,384.2 135.3,383.8 136.9,384.6 138.9,384.2 140.1,384.0 141.2,384.4 142.4,384.0 143.6,383.7 144.8,384.4 146.0,383.6 147.1,384.5 148.2,383.9 149.3,384.4 150.4,384.8 151.6,384.4 152.8,384.6 154.1,384.2 155.4,383.9 156.9,384.0 158.4,384.2 159.5,384.8 160.6,384.6 161.7,384.7 162.8,385.2 164.0,384.4 165.2,384.5 166.4,385.0 167.6,384.3 168.8,384.2 170.1,384.6 171.4,384.3 172.7,384.5 174.1,384.3 175.5,384.6 176.9,384.6 178.3,384.0 179.7,384.4 181.1,384.2 182.4,383.7 183.7,384.5 185.0,383.6 186.1,383.4 187.2,383.2 188.3,383.7 189.8,383.8 191.3,383.5 192.4,383.0 193.4,382.7 194.5,382.3 195.9,382.9 197.2,382.7 198.6,382.3 199.7,382.6 200.8,382.3 201.9,382.8 203.1,382.5 204.2,381.9 205.3,382.6 206.4,381.6 207.5,382.1 208.5,382.0 209.6,381.7 210.7,381.5 211.8,382.3 212.9,381.4 214.0,381.9 215.1,382.3 216.2,381.4 217.3,381.4 218.5,381.9 219.6,381.7 220.7,381.8 221.9,382.0 223.0,381.2 224.2,381.3 225.3,381.3 226.5,381.0 227.7,381.9 229.1,381.7 230.4,381.6 231.8,380.7 233.0,381.6 234.1,381.5 235.2,381.1 236.4,381.4 237.6,381.1" fill="none" stroke="#121212" stroke-width="1.75" stroke-linejoin="round" stroke-linecap="round"/>
<line x1="58.8" y1="307.4" x2="58.8" y2="320" stroke="#121212" stroke-width="1.3"/>
<line x1="301.6" y1="319.4" x2="301.6" y2="489.1" stroke="#3a3aa0" stroke-width="2.6"/>
<line x1="304.4" y1="327" x2="304.4" y2="487.6" stroke="#3c3c34" stroke-width="2.8" stroke-opacity="0.95"/>
<line x1="309.2" y1="330" x2="309.2" y2="489.5" stroke="#5050b0" stroke-width="1.6"/>
<polyline points="302.0,327.0 318.7,327.0 319.2,306.9 320.6,320.0 321.5,313.7 322.5,327.0 324.0,327.1 324.0,327.1 324.5,328.3 325.2,330.0 326.0,332.0 326.8,333.8 327.6,335.6 328.3,337.5 329.1,339.2 329.7,340.6 330.2,341.6 330.5,342.3 330.8,342.7 331.2,342.8 331.7,342.4 332.3,341.6 332.9,340.6 333.6,339.5 334.3,338.2 335.1,336.7 336.0,335.2 336.9,334.0 337.8,333.2 338.7,332.7 339.8,332.4 341.5,332.3 343.9,332.4 345.4,332.6 346.9,332.8 348.5,333.0 350.0,333.2 351.6,333.3 353.1,333.5 354.5,333.6 356.0,333.7 357.4,333.7 358.9,333.8 360.3,333.8 361.7,333.8 363.2,333.9 364.6,334.0 366.0,334.1 367.4,334.3 368.8,334.4 370.2,334.6 371.6,334.7 373.1,334.9 374.6,335.0 376.1,335.2 377.6,335.4 379.0,335.5 380.5,335.7 381.9,335.8 383.6,336.0 385.3,336.1 386.9,336.2 388.4,336.2 390.0,336.3 391.3,336.1 392.5,336.1 393.8,336.1 395.1,336.0 396.4,336.2 397.6,336.5 398.9,336.4 400.2,336.5 401.5,336.4 402.7,336.1 404.0,336.3 405.3,336.2 406.7,336.4 408.1,336.2 409.4,336.0 410.8,336.2 412.1,336.4 413.4,335.9 414.7,336.3 416.1,335.7 417.4,335.9 418.7,335.8 420.0,336.2 421.5,336.3 423.0,336.1 424.5,335.9 426.0,336.2 427.5,335.8 429.0,335.8 430.5,336.2 432.0,336.0 433.5,336.0 435.0,336.0 436.5,336.2 438.0,335.8 439.5,336.1 441.0,336.0 442.5,336.1 444.0,335.8 445.5,336.0 447.0,335.9 448.5,335.7 450.0,335.6 451.5,335.9 453.0,335.5 454.4,336.0 455.9,335.5 457.4,335.5 458.9,335.5 460.4,336.0 461.8,335.7 463.3,335.5 464.8,335.4 466.3,335.4 467.8,335.9 469.3,335.8 470.8,335.9 472.2,335.9 473.5,335.4 474.8,335.8 476.1,335.6 477.4,335.9 478.7,335.9 480.0,336.0 481.3,335.4 482.6,335.9 483.8,336.0 485.1,336.0 486.4,335.4 487.7,335.5 488.9,335.4 490.3,335.4 491.7,335.9 493.1,335.9 494.5,335.7 495.9,335.9 497.3,335.7 498.7,335.5 500.1,335.4 501.6,335.4 503.1,335.8 504.5,335.4 506.0,335.5 507.5,335.6 509.0,335.3 510.5,335.5 512.1,335.5 513.6,335.6" fill="none" stroke="#30308a" stroke-width="1.3" stroke-linejoin="round" stroke-linecap="round"/>
<polyline points="305.0,326.5 337.0,326.5 337.5,310.0 338.3,322.0 338.3,322.0 338.4,319.7 338.6,316.4 338.9,313.3 339.3,311.7 339.9,312.3 340.7,314.3 341.5,316.9 342.2,319.4 342.8,321.7 343.3,324.2 343.7,326.7 344.2,329.0 344.7,331.2 345.1,333.3 345.6,335.1 346.1,336.7 346.6,337.9 347.2,338.9 347.8,339.6 348.5,339.8 349.3,339.6 350.1,338.9 350.9,338.0 351.9,336.9 353.0,335.6 354.2,334.0 355.4,332.4 356.5,331.2 357.4,330.4 358.2,329.9 359.1,329.6 360.0,329.4 360.9,329.4 361.8,329.5 362.9,329.8 364.6,330.0 366.9,330.2 369.8,330.5 372.9,330.9 376.1,331.2 379.0,331.6 381.9,332.1 385.3,332.6 390.0,332.9 396.4,333.1 404.0,333.2 412.1,333.2 420.0,333.3 427.5,333.4 435.0,333.5 442.5,333.5 450.0,333.6 457.4,333.7 464.8,333.7 472.2,333.8 480.0,333.8 488.9,333.8 498.7,333.8 507.5,333.8 513.6,333.8" fill="none" stroke="#5f9a5f" stroke-width="1.5" stroke-linejoin="round" stroke-linecap="round"/>
<polyline points="305.0,326.4 330.7,326.4 331.2,306.9 332.1,325.0 332.1,325.0 332.5,325.2 333.2,325.4 333.9,326.0 334.5,327.1 334.8,328.0 335.0,329.0 335.3,330.2 335.6,331.4 335.7,332.3 335.9,333.2 336.1,334.1 336.3,335.4 336.5,336.7 336.7,337.9 336.9,339.1 337.1,340.3 337.2,341.5 337.4,342.7 337.6,343.9 337.7,345.1 337.9,346.3 338.1,347.4 338.2,348.6 338.4,349.6 338.5,350.7 338.7,351.8 338.8,353.0 339.0,354.2 339.2,355.4 339.4,356.3 339.5,357.3 339.7,358.2 339.9,359.2 340.1,360.2 340.3,361.2 340.5,362.2 340.7,363.2 340.9,364.2 341.1,365.1 341.3,366.0 341.5,366.9 341.7,368.1 342.0,369.2 342.2,370.3 342.4,371.3 342.7,372.3 342.9,373.2 343.1,374.1 343.3,375.0 343.7,376.5 344.0,377.7 344.3,379.1 344.8,380.8 345.1,381.9 345.3,383.1 345.6,384.4 345.9,385.8 346.1,386.7 346.4,387.7 346.6,388.6 346.9,389.6 347.2,390.5 347.5,391.5 347.9,392.5 348.3,393.5 348.7,394.5 349.2,395.5 349.6,396.6 350.1,397.6 350.6,398.7 351.1,399.7 351.6,400.7 352.0,401.7 352.5,402.6 352.9,403.6 353.3,404.4 353.6,405.3 354.0,406.1 354.5,407.3 355.0,408.4 355.5,409.6 355.9,410.7 356.4,411.9 356.9,413.1 357.2,414.0 357.6,414.8 357.9,415.7 358.3,416.6 358.6,417.5 359.0,418.4 359.3,419.3 359.7,420.3 360.0,421.2 360.4,422.0 360.7,422.9 361.0,423.8 361.4,425.0 361.8,426.2 362.1,427.4 362.4,428.5 362.8,429.7 363.2,430.9 363.5,431.7 363.9,432.6 364.2,433.5 364.7,434.5 365.1,435.9 365.6,436.4 366.0,437.2 366.4,439.1 366.9,439.2 367.3,440.6 367.7,441.1 368.2,441.0 368.6,442.5 369.1,443.4 369.6,444.9 370.2,445.2 370.8,446.8 371.4,447.4 371.9,447.8 372.5,449.7 373.1,449.2 373.7,451.2 374.2,450.9 375.1,451.7 375.9,453.0 376.7,454.9 377.5,456.2 378.1,455.4 378.8,457.1 379.3,457.8 379.9,459.0 381.1,459.3 381.8,460.4 382.5,460.8 383.4,462.1 384.3,461.7 385.4,463.2 386.4,462.6 387.5,462.9 388.6,464.1 389.7,464.2 390.8,464.0 391.9,465.2 393.0,464.8 394.2,466.3 395.3,466.5 396.5,467.1 397.7,467.2 398.8,467.1 400.0,467.5 401.1,467.8 402.3,468.9 403.4,467.9 404.6,469.5 405.7,468.4 406.9,468.9 408.0,469.3 409.2,470.6 410.4,470.4 411.5,470.5 412.7,471.7 413.9,471.1 415.0,471.8 416.2,472.3 417.3,472.9 418.5,473.2 419.6,473.2 420.7,473.0 421.8,473.1 422.9,472.9 424.0,474.1 425.2,473.9 426.4,474.1 427.7,473.3 428.9,473.7 430.1,474.3 431.3,474.0 432.5,473.3 433.6,473.8 434.6,474.4 435.6,473.4 436.7,473.3 437.8,473.5 438.9,474.1 440.0,474.3 441.0,473.3 442.0,473.3 443.0,473.4 444.0,473.5 445.0,473.9 446.0,473.3 447.0,473.6 448.0,473.4 449.0,474.6 450.0,474.2 451.0,473.2 452.1,474.6 453.1,473.3 454.1,473.7 455.1,474.7 456.1,474.4 457.1,474.3 458.1,473.8 459.1,473.5 460.2,474.2 461.2,473.3 462.2,473.5 463.1,473.8 464.1,473.2 465.1,473.8 466.1,474.4 467.1,474.3 468.0,474.0 469.0,474.2 470.0,473.9 471.0,473.4 472.0,474.2 473.0,473.9 473.9,474.4 474.9,474.7 475.9,473.9 476.9,474.1 477.9,474.4 478.9,473.9 479.9,473.6 480.8,474.4 481.8,474.6 482.8,474.5 483.7,474.3 484.7,474.6 485.7,474.3 486.6,474.2 487.6,473.9 488.6,473.7 489.5,474.2 490.5,473.4 491.4,473.9 492.4,474.5 493.4,474.4 494.3,474.2 495.3,473.6 496.3,473.9 497.2,473.9 498.2,474.2 499.2,473.9 500.1,474.3 501.1,474.7 502.1,473.5 503.0,474.3 504.0,474.5 505.0,473.8 506.0,474.0 507.0,474.8 508.0,473.3 509.0,474.1 510.0,473.5 511.0,474.5 512.0,474.7 513.0,474.0" fill="none" stroke="#561630" stroke-width="1.75" stroke-linejoin="round" stroke-linecap="round"/>
<polyline points="301.0,326.6 301.9,326.2 302.7,326.7 303.6,326.6 304.5,326.8 305.3,326.6 306.2,326.7 307.1,326.9 307.9,326.6 308.8,326.5 309.7,327.0 310.5,326.3 311.4,326.8 312.3,326.5 313.1,326.9 314.0,326.2 315.3,327.1 315.3,327.4 315.3,328.1 315.3,329.3 315.3,330.4 315.4,329.1 315.6,328.5 315.7,327.5 315.8,326.8 316.7,326.5 317.6,326.4 318.5,326.3 319.3,326.8 320.2,327.0 321.1,326.6 322.0,326.3 322.1,327.9 322.1,328.4 322.1,329.2 322.2,330.1 322.3,329.8 322.4,328.8 322.5,327.7 322.6,326.6 324.0,326.7 324.0,325.5 324.0,325.3 324.0,323.9 324.0,323.3 324.0,322.6 324.0,321.8 324.0,320.6 324.0,319.6 324.0,318.9 324.0,317.7 324.0,317.5 324.0,316.2 324.0,315.8 324.0,314.4 324.0,313.6 324.0,312.7 324.0,312.0 324.0,310.9 324.0,309.8 324.0,309.7 324.0,308.4 324.0,307.5 324.0,306.7 324.0,307.7 324.0,308.5 324.1,309.6 324.1,310.5 324.1,311.1 324.1,312.5 324.1,313.2 324.1,313.3 324.2,314.9 324.2,315.9 324.2,316.6 324.2,316.8 324.2,318.4 324.2,319.0 324.3,319.3 324.3,320.1 324.3,321.9 324.3,322.5 324.3,322.9 324.3,323.6 324.4,324.5 324.4,325.5 324.4,326.9 325.9,327.1 325.9,327.1 326.2,328.0 326.4,328.8 326.8,330.1 327.2,331.4 327.4,332.3 327.7,333.2 328.0,334.1 328.4,335.4 328.8,336.7 329.2,337.8 329.5,338.9 329.9,340.0 330.3,341.1 330.7,342.1 331.0,343.2 331.4,344.3 331.7,345.4 332.0,346.5 332.2,347.6 332.4,348.7 332.6,349.8 332.9,351.0 333.1,352.2 333.2,353.1 333.4,354.1 333.6,355.0 333.8,355.9 334.0,356.9 334.2,357.8 334.4,358.7 334.6,359.8 334.8,360.9 335.0,362.0 335.3,363.1 335.5,364.1 335.7,365.1 335.9,366.2 336.1,367.2 336.3,368.1 336.5,369.1 336.7,370.0 336.7,370.0 336.9,370.9 337.2,372.1 337.3,372.9 337.5,373.6 337.8,374.5 338.1,375.4 338.4,376.1 338.6,376.8 338.9,377.4 339.2,378.2 339.5,379.0 339.9,379.8 340.2,380.6 340.6,381.4 340.9,382.3 341.3,383.1 341.7,384.0 342.1,384.8 342.4,385.5 342.7,386.1 343.0,386.8 343.3,387.4 343.6,388.1 344.0,388.8 344.3,389.5 344.6,390.2 345.0,390.9 345.3,391.6 345.7,392.3 346.0,393.0 346.4,393.6 346.8,394.3 347.1,394.9 347.5,395.6 347.9,396.2 348.3,396.8 348.7,397.5 349.1,398.1 349.5,398.7 349.9,399.3 350.3,399.4 350.8,399.4 351.2,402.3 351.6,402.6 352.1,401.1 352.5,404.0 352.9,403.7 353.3,404.8 353.8,405.0 354.2,406.3 354.8,406.6 355.3,407.5 355.9,406.2 356.5,408.4 357.0,408.6 357.6,409.9 358.2,409.6 358.7,411.7 359.3,411.3 359.9,411.0 360.4,411.6 361.0,411.9 361.6,413.8 362.1,413.0 362.7,415.0 363.2,414.7 363.8,416.5 364.4,417.2 364.9,418.0 365.5,419.7 366.0,417.6 366.6,420.9 367.1,420.4 367.7,421.3 368.3,422.2 368.8,423.4 369.4,422.5 369.9,423.2 370.5,425.5 371.0,423.2 371.6,425.6 372.2,426.1 372.7,424.7 373.3,427.1 373.8,427.9 374.4,429.3 375.0,427.9 375.5,430.6 376.1,429.7 376.6,430.2 377.2,432.1 377.7,429.9 378.3,432.7 378.9,432.9 379.4,432.6 380.0,434.8 380.5,433.7 381.1,434.5 381.9,435.3 382.8,436.7 383.6,435.4 384.5,436.6 385.3,437.0 386.1,437.9 387.0,439.3 387.9,438.1 388.5,440.3 389.1,439.3 389.6,440.0 390.2,439.7 390.8,440.9 391.4,442.8 392.0,442.2 392.7,443.1 393.3,442.1 394.0,442.4 394.7,442.8 395.4,444.1 396.2,444.6 397.1,445.5 397.9,443.4 398.7,445.9 399.4,446.7 400.1,445.9 400.8,444.6 401.5,445.6 402.2,444.9 402.9,445.7 403.6,448.3 404.5,447.5 405.3,448.0 406.2,448.6 406.9,449.2 407.6,448.4 408.3,448.5 409.3,448.7 410.2,449.0 411.1,448.8 412.0,449.1 412.9,447.8 413.8,449.3 414.7,448.8 415.7,450.0 416.6,448.0 417.5,448.5 418.5,448.2 419.5,450.7 420.5,451.4 421.5,450.7 422.2,449.9 423.0,451.5 423.7,451.5 424.5,450.8 425.3,450.0 426.1,450.2 426.9,450.7 427.6,450.5 428.4,451.0 429.2,451.8 430.0,452.8 430.8,450.1 431.8,451.9 432.7,450.3 433.6,450.7 434.4,453.0 435.2,452.3 435.9,453.5 436.6,452.1 437.5,450.8 438.3,452.0 439.2,452.7 440.0,453.9 440.7,454.1 441.4,452.5 442.2,452.3 442.9,451.4 443.6,453.2 444.3,451.8 445.0,451.7 445.8,451.3 446.6,451.3 447.4,453.5 448.2,451.7 448.9,454.5 449.7,451.7 450.5,454.2 451.3,451.9 452.0,451.6 452.8,453.9 453.5,452.4 454.3,454.0 455.0,452.3 455.8,451.9 456.5,454.2 457.3,454.0 458.0,454.5 458.8,454.1 459.5,452.1 460.2,453.9 461.0,454.2 461.7,453.4 462.4,454.9 463.1,452.8 463.9,455.1 464.6,454.3 465.3,452.1 466.0,452.1 466.7,454.1 467.4,454.7 468.1,452.3 468.8,453.1 469.5,454.4 470.2,452.6 470.9,454.9 471.6,453.7 472.4,452.3 473.1,453.3 473.8,454.0 474.5,453.6 475.2,454.3 475.9,452.6 476.6,454.7 477.3,453.3 478.1,454.3 478.8,454.2 479.5,453.5 480.2,453.4 480.9,454.7 481.6,455.2 482.3,454.7 483.0,454.0 483.7,453.1 484.5,452.4 485.3,455.3 486.1,454.5 486.9,454.9 487.7,453.3 488.4,454.1 489.2,455.3 490.0,454.9 490.7,454.1 491.5,453.2 492.2,453.6 493.0,455.0 493.7,453.4 494.4,454.4 495.2,454.1 495.9,455.0 496.6,454.7 497.4,453.0 498.2,452.1 498.9,453.0 499.7,453.5 500.5,454.0 501.2,454.7 502.0,454.9 502.8,452.2 503.5,454.7 504.3,454.6 505.1,454.8 505.8,453.9 506.6,452.9 507.4,454.7 508.1,454.6 508.9,454.2 509.6,454.9 510.4,453.1 511.1,452.2 511.8,453.7 512.5,454.5 513.2,452.6 513.9,453.5" fill="none" stroke="#121212" stroke-width="1.9" stroke-linejoin="round" stroke-linecap="round"/>
<line x1="328.8" y1="326.6" x2="328.8" y2="330.5" stroke="#121212" stroke-width="1.2"/>
<text transform="translate(31.60 51.80) scale(0.95 1)" text-anchor="end" class="tk">0</text>
<text transform="translate(31.60 67.76) scale(0.95 1)" text-anchor="end" class="tk">10</text>
<text transform="translate(31.60 83.72) scale(0.95 1)" text-anchor="end" class="tk">20</text>
<text transform="translate(31.60 99.68) scale(0.95 1)" text-anchor="end" class="tk">30</text>
<text transform="translate(31.60 115.64) scale(0.95 1)" text-anchor="end" class="tk">40</text>
<text transform="translate(31.60 131.60) scale(0.95 1)" text-anchor="end" class="tk">50</text>
<text transform="translate(31.60 147.56) scale(0.95 1)" text-anchor="end" class="tk">60</text>
<text transform="translate(31.60 163.52) scale(0.95 1)" text-anchor="end" class="tk">70</text>
<text transform="translate(31.60 179.48) scale(0.95 1)" text-anchor="end" class="tk">80</text>
<text transform="translate(31.60 195.44) scale(0.95 1)" text-anchor="end" class="tk">90</text>
<text transform="translate(31.60 211.40) scale(0.95 1)" text-anchor="end" class="tk">100</text>
<text transform="translate(36.90 241.00) scale(0.95 1)" text-anchor="middle" class="tk">0</text>
<text transform="translate(74.70 241.00) scale(0.95 1)" text-anchor="middle" class="tk">2</text>
<text transform="translate(113.00 241.00) scale(0.95 1)" text-anchor="middle" class="tk">4</text>
<text transform="translate(153.70 241.00) scale(0.95 1)" text-anchor="middle" class="tk">6</text>
<text transform="translate(192.60 241.00) scale(0.95 1)" text-anchor="middle" class="tk">8</text>
<text transform="translate(229.70 241.00) scale(0.95 1)" text-anchor="middle" class="tk">10</text>
<text transform="translate(148.30 253.20) scale(0.97 1)" text-anchor="middle" class="bt">Time (min)</text>
<g transform="translate(12.2 130.2) rotate(-90) scale(0.97 1)"><text x="0" y="0" text-anchor="middle" class="bt">Percent</text></g>
<text transform="translate(132.70 20.30) scale(0.97 1)" text-anchor="middle" class="bt">[NPP4]=0nM</text>
<text transform="translate(3.60 13.80) scale(1.0 1)" text-anchor="start" class="lt">A</text>
<text transform="translate(196.20 47.30) scale(0.93 1)" text-anchor="start" class="cl" fill="#2c2c80" stroke="#2c2c80" stroke-width="0.2">0 uM Ap3A</text>
<text transform="translate(195.20 60.30) scale(0.93 1)" text-anchor="start" class="cl" fill="#3c573c" stroke="#3c573c" stroke-width="0.2">160 uM Ap3A</text>
<text transform="translate(199.80 72.50) scale(0.93 1)" text-anchor="start" class="cl" fill="#963048" stroke="#963048" stroke-width="0.2">80 uM Ap3A</text>
<text transform="translate(198.40 87.00) scale(0.93 1)" text-anchor="start" class="cl" fill="#111111" stroke="#111111" stroke-width="0.2">40 uM Ap3A</text>
<text transform="translate(294.20 53.00) scale(0.95 1)" text-anchor="end" class="tk">0</text>
<text transform="translate(294.20 69.15) scale(0.95 1)" text-anchor="end" class="tk">10</text>
<text transform="translate(294.20 85.30) scale(0.95 1)" text-anchor="end" class="tk">20</text>
<text transform="translate(294.20 101.45) scale(0.95 1)" text-anchor="end" class="tk">30</text>
<text transform="translate(294.20 117.60) scale(0.95 1)" text-anchor="end" class="tk">40</text>
<text transform="translate(294.20 133.75) scale(0.95 1)" text-anchor="end" class="tk">50</text>
<text transform="translate(294.20 149.90) scale(0.95 1)" text-anchor="end" class="tk">60</text>
<text transform="translate(294.20 166.05) scale(0.95 1)" text-anchor="end" class="tk">70</text>
<text transform="translate(294.20 182.20) scale(0.95 1)" text-anchor="end" class="tk">80</text>
<text transform="translate(294.20 198.35) scale(0.95 1)" text-anchor="end" class="tk">90</text>
<text transform="translate(294.20 214.50) scale(0.95 1)" text-anchor="end" class="tk">100</text>
<text transform="translate(300.40 241.00) scale(0.95 1)" text-anchor="middle" class="tk">0</text>
<text transform="translate(336.80 241.00) scale(0.95 1)" text-anchor="middle" class="tk">2</text>
<text transform="translate(373.00 241.00) scale(0.95 1)" text-anchor="middle" class="tk">4</text>
<text transform="translate(409.70 241.00) scale(0.95 1)" text-anchor="middle" class="tk">6</text>
<text transform="translate(445.30 241.00) scale(0.95 1)" text-anchor="middle" class="tk">8</text>
<text transform="translate(482.20 241.00) scale(0.95 1)" text-anchor="middle" class="tk">10</text>
<text transform="translate(412.60 253.20) scale(0.97 1)" text-anchor="middle" class="bt">Time (min)</text>
<g transform="translate(279.2 131.9) rotate(-90) scale(0.97 1)"><text x="0" y="0" text-anchor="middle" class="bt">Percent</text></g>
<text transform="translate(410.60 20.30) scale(0.97 1)" text-anchor="middle" class="bt">[NPP4]=100nM</text>
<text transform="translate(272.80 13.80) scale(1.0 1)" text-anchor="start" class="lt">B</text>
<text transform="translate(453.80 54.50) scale(0.93 1)" text-anchor="start" class="cl" fill="#2c2c80" stroke="#2c2c80" stroke-width="0.2">0uM Ap3A</text>
<text transform="translate(454.20 155.80) scale(0.93 1)" text-anchor="start" class="cl" fill="#111111" stroke="#111111" stroke-width="0.2">40uM Ap3A</text>
<text transform="translate(454.20 175.20) scale(0.93 1)" text-anchor="start" class="cl" fill="#963048" stroke="#963048" stroke-width="0.2">80uM Ap3A</text>
<text transform="translate(454.80 201.20) scale(0.93 1)" text-anchor="start" class="cl" fill="#3c573c" stroke="#3c573c" stroke-width="0.2">160uM Ap3A</text>
<text transform="translate(31.00 329.90) scale(0.95 1)" text-anchor="end" class="tk">0</text>
<text transform="translate(31.00 346.08) scale(0.95 1)" text-anchor="end" class="tk">10</text>
<text transform="translate(31.00 362.26) scale(0.95 1)" text-anchor="end" class="tk">20</text>
<text transform="translate(31.00 378.44) scale(0.95 1)" text-anchor="end" class="tk">30</text>
<text transform="translate(31.00 394.62) scale(0.95 1)" text-anchor="end" class="tk">40</text>
<text transform="translate(31.00 410.80) scale(0.95 1)" text-anchor="end" class="tk">50</text>
<text transform="translate(31.00 426.98) scale(0.95 1)" text-anchor="end" class="tk">60</text>
<text transform="translate(31.00 443.16) scale(0.95 1)" text-anchor="end" class="tk">70</text>
<text transform="translate(31.00 459.34) scale(0.95 1)" text-anchor="end" class="tk">80</text>
<text transform="translate(31.00 475.52) scale(0.95 1)" text-anchor="end" class="tk">90</text>
<text transform="translate(31.00 491.70) scale(0.95 1)" text-anchor="end" class="tk">100</text>
<text transform="translate(36.30 517.60) scale(0.95 1)" text-anchor="middle" class="tk">0</text>
<text transform="translate(72.65 517.60) scale(0.95 1)" text-anchor="middle" class="tk">2</text>
<text transform="translate(109.00 517.60) scale(0.95 1)" text-anchor="middle" class="tk">4</text>
<text transform="translate(145.35 517.60) scale(0.95 1)" text-anchor="middle" class="tk">6</text>
<text transform="translate(181.70 517.60) scale(0.95 1)" text-anchor="middle" class="tk">8</text>
<text transform="translate(218.05 517.60) scale(0.95 1)" text-anchor="middle" class="tk">10</text>
<text transform="translate(148.00 531.00) scale(0.97 1)" text-anchor="middle" class="bt">Time (min)</text>
<g transform="translate(12.4 404.0) rotate(-90) scale(0.97 1)"><text x="0" y="0" text-anchor="middle" class="bt">Percent</text></g>
<text transform="translate(142.80 299.80) scale(0.97 1)" text-anchor="middle" class="bt">[Ap3A]=80uM</text>
<text transform="translate(4.00 287.30) scale(1.0 1)" text-anchor="start" class="lt">C</text>
<text transform="translate(185.90 350.30) scale(0.93 1)" text-anchor="start" class="cl" fill="#2c2c80" stroke="#2c2c80" stroke-width="0.2">0 nM NPP4</text>
<text transform="translate(185.20 381.90) scale(0.93 1)" text-anchor="start" class="cl" fill="#111111" stroke="#111111" stroke-width="0.2">20 nM NPP4</text>
<text transform="translate(185.60 412.70) scale(0.93 1)" text-anchor="start" class="cl" fill="#963048" stroke="#963048" stroke-width="0.2">40 nM NPP4</text>
<text transform="translate(185.60 436.30) scale(0.93 1)" text-anchor="start" class="cl" fill="#3c573c" stroke="#3c573c" stroke-width="0.2">80 nM NPP4</text>
<text transform="translate(294.80 331.80) scale(0.95 1)" text-anchor="end" class="tk">0</text>
<text transform="translate(294.80 348.02) scale(0.95 1)" text-anchor="end" class="tk">10</text>
<text transform="translate(294.80 364.24) scale(0.95 1)" text-anchor="end" class="tk">20</text>
<text transform="translate(294.80 380.46) scale(0.95 1)" text-anchor="end" class="tk">30</text>
<text transform="translate(294.80 396.68) scale(0.95 1)" text-anchor="end" class="tk">40</text>
<text transform="translate(294.80 412.90) scale(0.95 1)" text-anchor="end" class="tk">50</text>
<text transform="translate(294.80 429.12) scale(0.95 1)" text-anchor="end" class="tk">60</text>
<text transform="translate(294.80 445.34) scale(0.95 1)" text-anchor="end" class="tk">70</text>
<text transform="translate(294.80 461.56) scale(0.95 1)" text-anchor="end" class="tk">80</text>
<text transform="translate(294.80 477.78) scale(0.95 1)" text-anchor="end" class="tk">90</text>
<text transform="translate(294.80 494.00) scale(0.95 1)" text-anchor="end" class="tk">100</text>
<text transform="translate(298.70 518.40) scale(0.95 1)" text-anchor="middle" class="tk">0</text>
<text transform="translate(334.98 518.40) scale(0.95 1)" text-anchor="middle" class="tk">2</text>
<text transform="translate(371.26 518.40) scale(0.95 1)" text-anchor="middle" class="tk">4</text>
<text transform="translate(407.54 518.40) scale(0.95 1)" text-anchor="middle" class="tk">6</text>
<text transform="translate(443.82 518.40) scale(0.95 1)" text-anchor="middle" class="tk">8</text>
<text transform="translate(480.10 518.40) scale(0.95 1)" text-anchor="middle" class="tk">10</text>
<text transform="translate(411.70 531.00) scale(0.97 1)" text-anchor="middle" class="bt">Time (min)</text>
<g transform="translate(279.2 408.6) rotate(-90) scale(0.97 1)"><text x="0" y="0" text-anchor="middle" class="bt">Percent</text></g>
<text transform="translate(406.90 299.80) scale(0.97 1)" text-anchor="middle" class="bt">[Ap3A]=80uM</text>
<text transform="translate(272.60 287.00) scale(1.0 1)" text-anchor="start" class="lt">D</text>
<text transform="translate(421.50 324.50) scale(0.93 1)" text-anchor="start" class="cl" fill="#3c573c" stroke="#3c573c" stroke-width="0.2">100nM T70A NPP4</text>
<text transform="translate(430.80 353.90) scale(0.93 1)" text-anchor="start" class="cl" fill="#2c2c80" stroke="#2c2c80" stroke-width="0.2">0nM NPP4</text>
<text transform="translate(431.30 438.50) scale(0.93 1)" text-anchor="start" class="cl" fill="#111111" stroke="#111111" stroke-width="0.2">100nM NPP4</text>
<text transform="translate(431.30 486.60) scale(0.93 1)" text-anchor="start" class="cl" fill="#963048" stroke="#963048" stroke-width="0.2">200nM NPP4</text>
</svg></body></html>
